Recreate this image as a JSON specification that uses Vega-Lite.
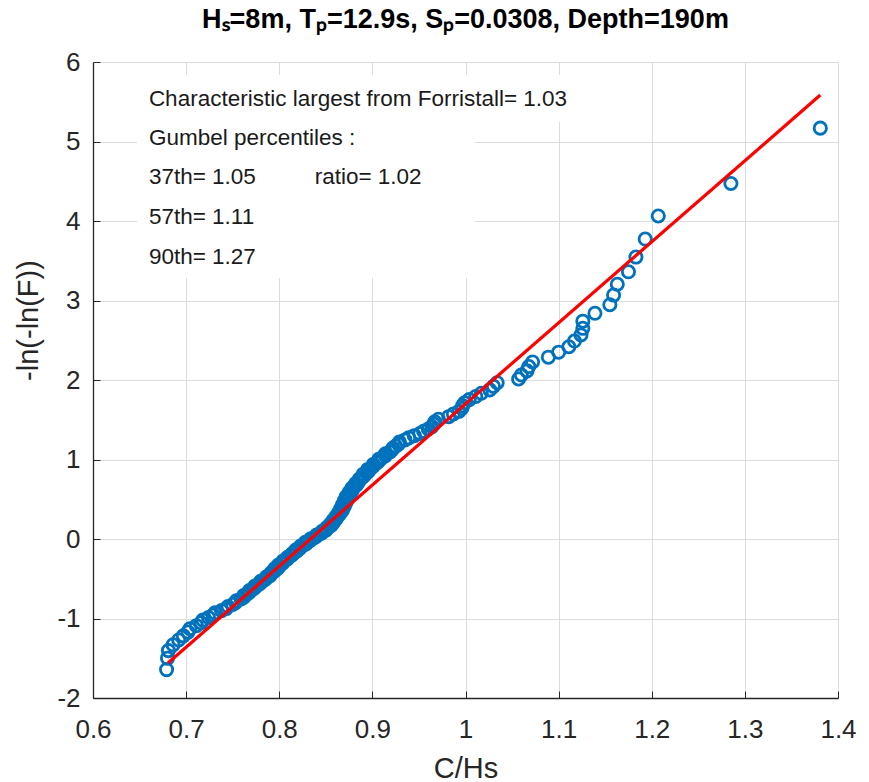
{
  "$schema": "https://vega.github.io/schema/vega-lite/v6.json",
  "width": 745,
  "height": 636,
  "autosize": {"type": "none"},
  "padding": {"left": 93, "top": 62, "right": 31, "bottom": 84},
  "background": "white",
  "config": {
    "view": {"stroke": null},
    "font": "Liberation Sans",
    "axis": {
      "domainColor": "#262626",
      "domainWidth": 1.3,
      "tickColor": "#262626",
      "tickSize": -7,
      "tickWidth": 1,
      "gridColor": "#dcdcdc",
      "gridWidth": 1,
      "labelFont": "Liberation Sans",
      "labelFontSize": 26,
      "labelColor": "#262626",
      "titleFont": "Liberation Sans",
      "titleFontSize": 29,
      "titleFontWeight": "normal",
      "titleColor": "#262626"
    }
  },
  "title": {
    "text": "Hₛ=8m, Tₚ=12.9s, Sₚ=0.0308, Depth=190m",
    "font": "Liberation Sans",
    "fontSize": 27,
    "fontWeight": "bold",
    "color": "#000000",
    "anchor": "middle",
    "frame": "group",
    "baseline": "alphabetic",
    "offset": 0,
    "dy": 6
  },
  "datasets": {
    "points": [
      {"x":0.679,"y":-1.643},{"x":0.680,"y":-1.499},{"x":0.681,"y":-1.404},{"x":0.686,"y":-1.331},{"x":0.692,"y":-1.270},
      {"x":0.697,"y":-1.218},{"x":0.702,"y":-1.171},{"x":0.704,"y":-1.129},{"x":0.711,"y":-1.090},{"x":0.716,"y":-1.054},
      {"x":0.718,"y":-1.020},{"x":0.724,"y":-0.988},{"x":0.729,"y":-0.958},{"x":0.731,"y":-0.929},{"x":0.738,"y":-0.901},
      {"x":0.743,"y":-0.875},{"x":0.745,"y":-0.849},{"x":0.750,"y":-0.824},{"x":0.753,"y":-0.800},{"x":0.754,"y":-0.777},
      {"x":0.759,"y":-0.754},{"x":0.762,"y":-0.732},{"x":0.762,"y":-0.710},{"x":0.766,"y":-0.689},{"x":0.768,"y":-0.669},
      {"x":0.768,"y":-0.648},{"x":0.772,"y":-0.628},{"x":0.774,"y":-0.609},{"x":0.774,"y":-0.590},{"x":0.778,"y":-0.571},
      {"x":0.780,"y":-0.552},{"x":0.780,"y":-0.533},{"x":0.784,"y":-0.515},{"x":0.786,"y":-0.497},{"x":0.786,"y":-0.479},
      {"x":0.790,"y":-0.462},{"x":0.791,"y":-0.444},{"x":0.791,"y":-0.427},{"x":0.794,"y":-0.410},{"x":0.796,"y":-0.393},
      {"x":0.795,"y":-0.376},{"x":0.799,"y":-0.360},{"x":0.800,"y":-0.343},{"x":0.799,"y":-0.327},{"x":0.803,"y":-0.310},
      {"x":0.804,"y":-0.294},{"x":0.804,"y":-0.278},{"x":0.807,"y":-0.262},{"x":0.809,"y":-0.246},{"x":0.809,"y":-0.230},
      {"x":0.812,"y":-0.214},{"x":0.814,"y":-0.198},{"x":0.814,"y":-0.182},{"x":0.817,"y":-0.167},{"x":0.819,"y":-0.151},
      {"x":0.818,"y":-0.136},{"x":0.822,"y":-0.120},{"x":0.823,"y":-0.104},{"x":0.823,"y":-0.089},{"x":0.827,"y":-0.073},
      {"x":0.829,"y":-0.058},{"x":0.828,"y":-0.042},{"x":0.832,"y":-0.027},{"x":0.834,"y":-0.012},{"x":0.834,"y":0.004},
      {"x":0.838,"y":0.019},{"x":0.840,"y":0.035},{"x":0.840,"y":0.050},{"x":0.844,"y":0.066},{"x":0.846,"y":0.081},
      {"x":0.846,"y":0.097},{"x":0.850,"y":0.112},{"x":0.851,"y":0.128},{"x":0.851,"y":0.143},{"x":0.854,"y":0.159},
      {"x":0.856,"y":0.175},{"x":0.855,"y":0.190},{"x":0.858,"y":0.206},{"x":0.859,"y":0.222},{"x":0.858,"y":0.238},
      {"x":0.861,"y":0.254},{"x":0.862,"y":0.270},{"x":0.861,"y":0.286},{"x":0.864,"y":0.302},{"x":0.865,"y":0.318},
      {"x":0.864,"y":0.334},{"x":0.867,"y":0.350},{"x":0.868,"y":0.367},{"x":0.866,"y":0.383},{"x":0.869,"y":0.399},
      {"x":0.870,"y":0.416},{"x":0.868,"y":0.433},{"x":0.871,"y":0.450},{"x":0.872,"y":0.466},{"x":0.870,"y":0.483},
      {"x":0.873,"y":0.501},{"x":0.874,"y":0.518},{"x":0.872,"y":0.535},{"x":0.875,"y":0.553},{"x":0.876,"y":0.570},
      {"x":0.875,"y":0.588},{"x":0.878,"y":0.606},{"x":0.879,"y":0.624},{"x":0.878,"y":0.642},{"x":0.881,"y":0.661},
      {"x":0.883,"y":0.679},{"x":0.882,"y":0.698},{"x":0.885,"y":0.717},{"x":0.886,"y":0.736},{"x":0.886,"y":0.755},
      {"x":0.889,"y":0.774},{"x":0.891,"y":0.794},{"x":0.890,"y":0.814},{"x":0.894,"y":0.834},{"x":0.896,"y":0.854},
      {"x":0.895,"y":0.875},{"x":0.899,"y":0.896},{"x":0.901,"y":0.917},{"x":0.901,"y":0.938},{"x":0.905,"y":0.960},
      {"x":0.907,"y":0.982},{"x":0.907,"y":1.004},{"x":0.911,"y":1.026},{"x":0.914,"y":1.049},{"x":0.914,"y":1.072},
      {"x":0.919,"y":1.096},{"x":0.921,"y":1.120},{"x":0.922,"y":1.144},{"x":0.925,"y":1.169},{"x":0.928,"y":1.194},
      {"x":0.929,"y":1.220},{"x":0.935,"y":1.246},{"x":0.939,"y":1.272},{"x":0.945,"y":1.300},{"x":0.951,"y":1.327},
      {"x":0.955,"y":1.355},{"x":0.960,"y":1.384},{"x":0.964,"y":1.414},{"x":0.966,"y":1.444},{"x":0.967,"y":1.475},
      {"x":0.971,"y":1.506},{"x":0.982,"y":1.539},{"x":0.987,"y":1.572},{"x":0.993,"y":1.606},{"x":0.996,"y":1.641},
      {"x":0.997,"y":1.677},{"x":0.999,"y":1.714},{"x":1.004,"y":1.753},{"x":1.011,"y":1.793},{"x":1.017,"y":1.834},
      {"x":1.026,"y":1.876},{"x":1.030,"y":1.920},{"x":1.034,"y":1.966},{"x":1.057,"y":2.013},{"x":1.060,"y":2.063},
      {"x":1.066,"y":2.115},{"x":1.068,"y":2.169},{"x":1.072,"y":2.227},{"x":1.089,"y":2.287},{"x":1.100,"y":2.350},
      {"x":1.111,"y":2.418},{"x":1.117,"y":2.490},{"x":1.124,"y":2.567},{"x":1.126,"y":2.650},{"x":1.126,"y":2.740},
      {"x":1.139,"y":2.839},{"x":1.155,"y":2.947},{"x":1.159,"y":3.068},{"x":1.163,"y":3.204},{"x":1.175,"y":3.361},
      {"x":1.183,"y":3.546},{"x":1.193,"y":3.773},{"x":1.207,"y":4.063},{"x":1.285,"y":4.472},{"x":1.381,"y":5.168}
    ],
    "fit": [
      {"x": 0.6805, "y": -1.56},
      {"x": 1.381, "y": 5.585}
    ],
    "boxes": [
      {"x": 0.6472, "x2": 1.1118, "y": 5.836, "y2": 5.245},
      {"x": 0.6472, "x2": 1.0099, "y": 5.245, "y2": 3.283}
    ],
    "notes": [
      {"x": 0.660, "y": 5.53, "label": "Characteristic largest from Forristall= 1.03"},
      {"x": 0.660, "y": 5.04, "label": "Gumbel percentiles :"},
      {"x": 0.660, "y": 4.55, "label": "37th= 1.05"},
      {"x": 0.838, "y": 4.55, "label": "ratio= 1.02"},
      {"x": 0.660, "y": 4.05, "label": "57th= 1.11"},
      {"x": 0.660, "y": 3.55, "label": "90th= 1.27"}
    ]
  },
  "encoding": {
    "x": {
      "field": "x",
      "type": "quantitative",
      "scale": {"domain": [0.6, 1.4], "nice": false, "zero": false},
      "axis": {
        "title": "C/Hs",
        "values": [0.6, 0.7, 0.8, 0.9, 1.0, 1.1, 1.2, 1.3, 1.4],
        "format": "~g",
        "labelPadding": 25,
        "labelFlush": false,
        "titleX": 372.5,
        "titleY": 79,
        "titleAlign": "center",
        "titleBaseline": "alphabetic"
      }
    },
    "y": {
      "field": "y",
      "type": "quantitative",
      "scale": {"domain": [-2, 6], "nice": false, "zero": false},
      "axis": {
        "title": "-ln(-ln(F))",
        "values": [-2, -1, 0, 1, 2, 3, 4, 5, 6],
        "labelExpr": "'' + datum.value",
        "labelPadding": 20,
        "labelFlush": false,
        "titleX": -56,
        "titleY": 258,
        "titleAngle": 270,
        "titleAlign": "center",
        "titleBaseline": "alphabetic"
      }
    }
  },
  "layer": [
    {
      "data": {"name": "boxes"},
      "mark": {"type": "rect", "fill": "white", "stroke": null},
      "encoding": {
        "x2": {"field": "x2"},
        "y2": {"field": "y2"}
      }
    },
    {
      "data": {"name": "points"},
      "mark": {"type": "point", "shape": "circle", "filled": false, "stroke": "#0072BD", "strokeWidth": 2.8, "size": 150, "opacity": 1}
    },
    {
      "data": {"name": "fit"},
      "mark": {"type": "line", "color": "#FF0000", "strokeWidth": 3.2}
    },
    {
      "data": {"name": "notes"},
      "mark": {"type": "text", "align": "left", "baseline": "middle", "fontSize": 22.5, "font": "Liberation Sans", "color": "#1a1a1a"},
      "encoding": {
        "text": {"field": "label", "type": "nominal"}
      }
    }
  ]
}
